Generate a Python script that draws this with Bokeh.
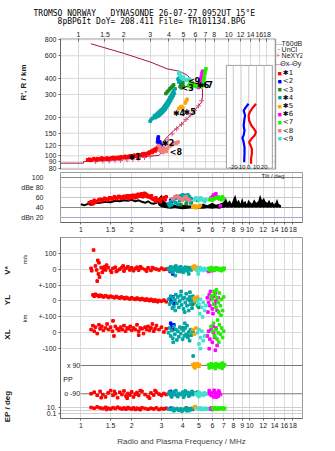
import math
from bokeh.plotting import figure
from bokeh.layouts import column
from bokeh.models import Range1d, FixedTicker, Label, LinearScale, LinearAxis, Title
from bokeh.embed import file_html
from bokeh.resources import INLINE

# ------------------------------------------------------------------ data
TITLE1 = "TROMSO NORWAY\u00a0\u00a0\u00a0DYNASONDE 26-07-27 0952UT 15°E"
TITLE2 = "8pBP6It DoY= 208.411 File= TR101134.BPG"

F_TICKS_TOP = [1, 1.5, 2, 3, 4, 5, 6, 7, 8, 10, 12, 14, 16, 18]
F_TICKS_BOT = [1, 1.5, 2, 3, 4, 5, 6, 7, 8, 9, 10, 12, 14, 16, 18]
H_TICKS = [80, 90, 100, 120, 150, 200, 300, 400, 600, 800]
DB_TICKS = [20, 40, 60, 80, 100]
DB_LABELS = {20: "dBn 20", 40: "40", 60: "60", 80: "dBe 80", 100: "100"}
TILT_TICKS = [-20, -10, 0, 10, 20]

SERIES_NAMES = ["✱1", "<2", "<3", "✱4", "✱5", "✱6", "<7", "<8", "<9"]
SERIES_COLORS = ["#FF0000", "#0000FF", "#1E8C1E", "#00A5A5", "#FFA500",
                 "#FF00FF", "#22EE00", "#F08080", "#40E0D0"]

# real-height / profile line (MHz, km)
PROF_F = [0.758, 1.08, 1.08, 1.61, 2.77, 3.43, 3.58, 3.65, 3.89, 4.32, 4.88, 5.68,
          6.58, 6.69, 6.69, 6.28, 5.68, 5.33, 4.70, 3.89, 3.03, 1.99, 1.21]
PROF_H = [87.6, 87.6, 90.3, 92, 98.8, 100.5, 106.7, 128, 140, 157, 177, 212,
          261, 286, 332, 352, 385, 422, 455, 475, 535, 628, 744]
NE_F = [1.3, 1.45, 1.6, 1.75, 1.9, 2.1, 2.3, 2.5, 2.75, 3.0, 3.55, 3.75, 3.95,
        4.2, 4.5, 4.85, 5.2, 5.55, 5.9, 6.3, 6.6]
NE_H = [90, 91, 91, 92, 92, 93, 94, 95, 97, 99, 112, 123, 133,
        148, 162, 176, 192, 208, 225, 245, 268]

# tilt profiles (deg, km)
TILTX_D = [9.3, 7.6, 4.0, 1.3, -0.2, 0.5, 3.4, 6.9, 9.3, 7.6, 3.4, 0.5, 2.3, 4.0, 4.0, 3.0, 3.0]
TILTX_H = [254, 246, 232, 218, 206, 188, 172, 162, 153, 144, 135.5, 127.6, 120.3, 113, 103.6, 94.8, 86.7]
TILTY_D = [-0.2, -3.7, -6.6, -4.8, -5.9, -6.6, -5.5, -6.6, -8.3, -6.6, -5.5, -5.5, -5.9, -5.9]
TILTY_H = [254, 239, 225, 206, 188, 172, 157, 144, 138, 127.6, 116.6, 103.6, 92, 89]

# echo traces: virtual height (MHz, km)
H1 = [(1.15, 93), (1.18, 94), (1.2, 92), (1.22, 93), (1.26, 95), (1.3, 94), (1.32, 93), (1.34, 95),
      (1.38, 94), (1.42, 96), (1.44, 94), (1.46, 95), (1.5, 95), (1.55, 96), (1.58, 94), (1.6, 95),
      (1.65, 96), (1.7, 97), (1.72, 95), (1.75, 96), (1.8, 97), (1.86, 97), (1.9, 96), (1.92, 98),
      (1.98, 97), (2.04, 99), (2.06, 97), (2.1, 98), (2.16, 99), (2.22, 100), (2.25, 98), (2.28, 99),
      (2.35, 101), (2.42, 100), (2.45, 99), (2.5, 102), (2.58, 101), (2.62, 101), (2.66, 103),
      (2.74, 104), (2.8, 102), (2.82, 103), (2.9, 105), (2.95, 104), (2.98, 107), (3.05, 108),
      (3.1, 106), (3.12, 110), (3.2, 112), (3.25, 109), (3.28, 113), (3.35, 116), (3.42, 118), (3.38, 112)]
H2 = [(3.38, 135), (3.4, 140), (3.42, 130), (3.45, 125), (3.48, 128), (3.5, 122), (3.55, 120), (3.36, 128)]
H3 = [(3.82, 305), (3.9, 315), (3.98, 322), (4.06, 332), (4.14, 340), (4.22, 348), (4.3, 356),
      (4.75, 345), (4.8, 360), (4.85, 338), (4.9, 352), (4.95, 370), (5.0, 348), (4.72, 380)]
H4 = [(3.0, 186), (3.05, 192), (3.12, 196), (3.2, 205), (3.25, 198), (3.3, 210), (3.35, 202),
      (3.38, 215), (3.42, 205), (3.45, 220), (3.5, 210), (3.52, 225), (3.56, 214), (3.6, 230),
      (3.63, 218), (3.67, 236), (3.7, 224), (3.74, 244), (3.78, 230), (3.82, 252), (3.86, 238),
      (3.9, 262), (3.94, 248), (3.98, 272), (4.02, 258), (4.06, 284), (4.1, 268), (4.14, 296),
      (4.18, 280), (4.22, 308), (4.26, 292), (4.3, 320), (4.35, 305), (4.4, 332),
      (4.6, 395), (4.7, 410), (4.8, 385), (4.65, 375)]
H5 = [(4.65, 232), (4.75, 238), (4.85, 242), (4.95, 236), (5.15, 258), (5.22, 268), (5.28, 275)]
H6 = [(6.35, 350), (6.4, 362), (6.45, 375), (6.5, 390), (6.55, 405), (6.6, 420), (6.65, 440),
      (6.7, 455), (6.3, 340), (6.2, 345), (6.05, 348)]
H7 = [(5.4, 350), (5.5, 360), (5.6, 345), (5.7, 352), (5.8, 358), (5.9, 350), (6.0, 355),
      (6.1, 348), (6.2, 352), (5.55, 370), (5.75, 365), (6.8, 380), (6.85, 400), (6.9, 420),
      (6.95, 440), (7.0, 460), (6.75, 360), (6.6, 345), (7.05, 475)]
H8 = [(3.45, 110), (3.5, 114), (3.55, 108), (3.6, 112), (3.65, 106), (3.7, 115), (3.75, 110),
      (3.8, 112), (3.85, 108), (3.9, 114), (4.0, 118), (4.1, 120), (4.2, 122), (4.3, 124),
      (4.4, 126), (4.5, 125), (4.6, 128), (3.4, 120), (3.48, 118)]
H9 = [(4.65, 440), (4.7, 430), (4.75, 420), (4.8, 410), (4.9, 400), (5.0, 395), (5.1, 392),
      (5.2, 388), (5.3, 390), (5.45, 395), (4.72, 445), (5.0, 410)]
TRACE_TAGS = [("✱1", 2.15, 97), ("✱2", 3.6, 124), ("<3", 4.85, 335), ("✱4", 4.25, 212),
              ("✱5", 5.0, 218), ("<8", 4.05, 107), ("<9", 5.35, 378), ("✱6", 6.15, 352), ("<7", 6.5, 352)]

# amplitude (MHz, dB)
NOISE_LEFT_F = [1.0, 1.05, 1.1, 1.15, 1.2, 1.3, 1.4, 1.5, 1.6, 1.7, 1.8, 1.9, 2.0, 2.1, 2.2,
                2.3, 2.4, 2.5, 2.6, 2.7, 2.8, 2.85]
NOISE_LEFT_DB = [47, 45, 48, 46, 49, 50, 52, 51, 54, 53, 55, 54, 56, 53, 55, 52, 50, 53, 49, 48, 50, 52]
NOISE_F = [2.85, 2.9, 3.0, 3.1, 3.2, 3.4, 3.6, 3.8, 4.0, 4.3, 4.6, 5.0, 5.3, 5.6, 6.0, 6.3,
           6.6, 6.9, 7.0, 7.2, 7.4, 7.6, 7.8, 8.0, 8.2, 8.4, 8.6, 8.8, 9.0, 9.2, 9.4, 9.6,
           9.8, 10.0, 10.3, 10.6, 10.9, 11.2, 11.5, 11.8, 12.1, 12.4, 12.7, 13.0, 13.3,
           13.6, 13.9, 14.2, 14.5, 14.8, 15.1, 15.3]
NOISE_HI = [52, 60, 66, 55, 50, 48, 46, 45, 46, 45, 44, 46, 48, 45, 50, 46,
            48, 50, 52, 60, 50, 55, 48, 58, 66, 52, 56, 48, 60, 50, 54, 47,
            56, 52, 48, 57, 50, 53, 66, 55, 60, 52, 50, 56, 49,
            52, 47, 50, 58, 48, 46, 45]
NOISE_LO = [48, 44, 41, 40, 39, 38, 39, 38, 37, 38, 39, 38, 38, 39, 38, 39,
            38, 40, 40, 41, 40, 41, 40, 41, 40, 41, 40, 41, 40, 41, 40, 41,
            40, 41, 40, 41, 40, 41, 40, 41, 40, 41, 40, 41, 40,
            41, 40, 41, 40, 41, 40, 41]
D1 = [(1.12, 50), (1.15, 52), (1.18, 48), (1.2, 55), (1.22, 51), (1.25, 53), (1.28, 56), (1.3, 57),
      (1.33, 54), (1.35, 56), (1.38, 59), (1.4, 58), (1.43, 55), (1.45, 57), (1.48, 60), (1.5, 60),
      (1.53, 57), (1.55, 59), (1.58, 62), (1.6, 61), (1.63, 58), (1.65, 60), (1.68, 63), (1.7, 62),
      (1.73, 59), (1.75, 59), (1.78, 62), (1.8, 63), (1.83, 60), (1.85, 61), (1.88, 64), (1.9, 60),
      (1.93, 58), (1.95, 64), (1.98, 61), (2.0, 62), (2.03, 65), (2.05, 63), (2.08, 60), (2.1, 65),
      (2.13, 61), (2.15, 62), (2.18, 67), (2.2, 66), (2.23, 63), (2.25, 64), (2.28, 68), (2.3, 67),
      (2.33, 62), (2.35, 65), (2.38, 69), (2.4, 68), (2.43, 64), (2.45, 66), (2.48, 62), (2.5, 64),
      (2.55, 62), (2.6, 60), (2.62, 64), (2.65, 58), (2.7, 57), (2.75, 55), (2.78, 60), (2.8, 53),
      (2.85, 56), (2.9, 55), (2.95, 52), (3.0, 58), (3.1, 60), (3.15, 56), (3.2, 62)]
D2 = [(3.4, 55), (3.45, 52), (3.5, 58)]
D3 = [(3.9, 46), (4.2, 48), (4.5, 50), (4.9, 55)]
D4 = [(3.3, 48), (3.4, 52), (3.5, 55), (3.6, 58), (3.7, 60), (3.8, 62), (3.9, 64), (4.0, 66),
      (4.1, 65), (4.2, 63), (4.3, 66), (4.4, 62), (4.5, 58), (3.45, 46), (3.65, 50), (3.85, 54),
      (4.05, 58), (4.25, 55), (4.45, 50), (3.35, 44), (3.75, 47), (4.15, 60)]
D5 = [(4.6, 42), (4.7, 44), (4.8, 40), (4.9, 43), (5.0, 42), (5.1, 45)]
D6 = [(5.9, 60), (6.0, 62), (6.1, 66), (6.2, 64), (6.3, 68), (6.4, 62), (6.5, 60), (6.6, 58), (6.7, 44)]
D7 = [(5.8, 56), (5.9, 58), (6.0, 55), (6.2, 58), (6.3, 60), (6.5, 62), (6.6, 58), (6.7, 60),
      (6.8, 56), (6.9, 62), (7.0, 58)]
D8 = [(3.5, 58), (3.6, 62), (3.7, 64), (3.8, 60), (3.9, 58), (4.0, 55), (4.1, 60), (4.2, 62),
      (4.3, 57), (4.4, 55)]
D9 = [(4.7, 56), (4.8, 60), (4.9, 58), (5.0, 55), (5.1, 60), (5.2, 57), (5.3, 55), (5.4, 52), (5.5, 56)]

# Doppler velocity V* (MHz, m/s)
V1 = [(1.15, 5), (1.16, -10), (1.19, 120), (1.22, 20), (1.24, -5), (1.26, 55), (1.28, 40), (1.27, -30),
      (1.25, -75), (1.32, 10), (1.34, -20), (1.36, 0), (1.38, 15), (1.4, -5), (1.45, 10), (1.5, -10),
      (1.55, 5), (1.6, 12), (1.65, -8), (1.7, 0), (1.75, 10), (1.8, -12), (1.85, 5), (1.9, 15),
      (1.95, -5), (2.0, 8), (2.05, -10), (2.1, 3), (2.15, 12), (2.2, -6), (2.3, 5), (2.4, -3),
      (2.5, 8), (2.6, -8), (2.7, 4), (2.8, 0), (2.9, -5), (3.0, 6), (3.1, -2), (3.2, 0),
      (1.62, -15), (1.78, 20), (2.25, 15), (2.45, -12), (2.65, 10), (1.42, 25), (1.52, -20), (1.29, -50)]
V2 = [(3.38, -15), (3.42, 5), (3.5, -30), (3.55, 10)]
V3 = [(3.9, -15), (4.3, 10)]
V4 = [(3.3, 5), (3.35, -10), (3.4, 15), (3.45, 0), (3.5, -20), (3.55, 10), (3.6, -5), (3.65, 20),
      (3.7, 0), (3.75, -15), (3.8, 10), (3.85, -5), (3.9, 15), (3.95, -10), (4.0, 5), (4.05, -20),
      (4.1, 0), (4.15, 12), (4.2, -8), (4.25, 5), (4.3, -12), (4.4, 8), (4.5, -5), (3.62, -40), (4.35, -30)]
V5 = [(4.6, 15), (4.65, 5), (4.7, 20), (4.75, 0), (4.8, 10), (4.85, -5), (4.9, 12)]
V6 = [(5.6, -5), (5.7, -15), (5.8, 0), (5.9, -10), (6.0, 5), (6.1, -8)]
V7 = [(5.7, 5), (5.8, -5), (5.9, 10), (6.0, -8), (6.1, 3), (6.2, -5), (6.3, 8), (6.4, -2),
      (6.5, 5), (6.6, -5), (6.7, 0), (6.8, -10), (6.9, 5), (7.0, -3), (7.05, 6)]
V8 = []
V9 = [(4.85, 0), (4.9, -10), (5.0, 5), (5.05, -5), (5.1, 10), (5.2, 0), (5.3, -8), (5.4, 5),
      (5.5, -3), (4.95, -30)]

# YL (MHz, km)
Y1 = [(1.18, 38), (1.2, 30), (1.22, 42), (1.25, 35), (1.28, 28), (1.3, 36), (1.33, 32), (1.36, 25),
      (1.4, 33), (1.43, 28), (1.46, 22), (1.5, 30), (1.54, 25), (1.58, 20), (1.62, 28), (1.66, 22),
      (1.7, 18), (1.74, 25), (1.78, 20), (1.82, 15), (1.86, 22), (1.9, 17), (1.95, 12), (2.0, 20),
      (2.05, 14), (2.1, 10), (2.15, 18), (2.2, 12), (2.25, 8), (2.3, 15), (2.35, 10), (2.4, 5),
      (2.45, 12), (2.5, 6), (2.55, 2), (2.6, 10), (2.65, 4), (2.7, -2), (2.75, 6), (2.8, 0),
      (2.85, -5), (2.9, 3), (3.0, -2), (3.1, 5), (3.2, -5)]
Y2 = [(3.38, 15), (3.42, -5), (3.5, 25), (3.56, -15)]
Y3 = [(4.4, 5), (4.6, -20), (4.9, 15), (5.0, -40)]
Y4 = [(3.3, 10), (3.35, -20), (3.4, 30), (3.45, -10), (3.5, 20), (3.55, -35), (3.6, 5), (3.65, 40),
      (3.7, -15), (3.75, 25), (3.8, -40), (3.85, 0), (3.9, 35), (3.95, -25), (4.0, 15), (4.05, -50),
      (4.1, 20), (4.15, -10), (4.2, 45), (4.25, -30), (4.3, 10), (4.35, -60), (4.4, 25), (4.45, -20),
      (4.5, 5), (4.55, -45), (4.6, 30), (4.7, -10), (4.8, 15), (4.9, -30), (3.62, -60), (3.92, 60),
      (4.12, -70), (4.42, 55), (3.48, -45)]
Y5 = [(4.7, 20), (4.8, 10), (4.9, 25), (4.75, 0)]
Y6 = [(5.6, 20), (5.7, -10), (5.75, 40), (5.8, -30), (5.9, 10), (6.0, -50), (6.1, 30), (6.2, -20),
      (6.3, 0), (6.4, -60), (6.5, 20), (5.85, 60), (6.05, -80), (6.25, 50), (5.65, -70)]
Y7 = [(5.9, 30), (6.0, 10), (6.1, -20), (6.2, 40), (6.3, -40), (6.4, 20), (6.5, -10), (6.6, 50),
      (6.7, -30), (6.8, 10), (6.9, -60), (7.0, 25), (6.35, 70), (6.55, -70), (6.75, -90), (6.15, 60)]
Y8 = []
Y9 = [(4.9, 0), (5.0, -20), (5.1, 10), (5.2, -40), (5.3, -10), (5.4, -60), (5.5, -30), (5.05, -80), (5.25, -100)]

# XL (MHz, km)
X1 = [(1.15, 20), (1.18, 45), (1.2, 10), (1.22, 35), (1.25, -5), (1.28, 50), (1.3, 25), (1.33, 40),
      (1.36, 15), (1.4, 30), (1.43, 55), (1.46, 20), (1.5, 35), (1.54, 10), (1.57, -20), (1.6, 40),
      (1.64, 25), (1.68, 15), (1.72, 35), (1.76, 20), (1.8, 45), (1.84, 10), (1.88, 30), (1.92, 25),
      (1.96, 40), (2.0, 15), (2.05, 30), (2.1, 20), (2.15, 50), (2.2, 10), (2.25, 30), (2.3, 25),
      (2.35, -5), (2.4, 35), (2.45, 20), (2.5, 40), (2.55, 15), (2.6, 30), (2.65, 55), (2.7, 10),
      (2.75, 25), (2.8, 45), (2.9, 20), (3.0, 35), (3.1, 5), (3.2, 25), (1.55, 75), (2.2, -15)]
X2 = [(3.4, 60), (3.45, 40), (3.5, 20), (3.55, 50)]
X3 = [(4.0, 30), (4.3, -20), (4.6, 10)]
X4 = [(3.3, 0), (3.35, 30), (3.4, -20), (3.45, 15), (3.5, -35), (3.55, 40), (3.6, -10), (3.65, 20),
      (3.7, -45), (3.75, 10), (3.8, -25), (3.85, 35), (3.9, -5), (3.95, 25), (4.0, -40), (4.05, 15),
      (4.1, -20), (4.15, 30), (4.2, -10), (4.25, 45), (4.3, -30), (4.35, 5), (4.4, -50), (4.45, 20),
      (4.5, -15), (4.6, 10), (3.52, -60), (4.12, 60)]
X5 = [(4.6, 20), (4.7, -10), (4.8, 30)]
X6 = [(5.6, -20), (5.7, 10), (5.8, -40), (5.9, 20), (6.0, -60), (6.1, 0), (6.2, -30), (6.3, 30),
      (6.4, -80), (5.75, -100), (6.05, 40), (6.25, -110)]
X7 = [(5.9, 40), (6.0, 10), (6.1, 60), (6.2, -20), (6.3, 20), (6.4, -40), (6.5, 0), (6.6, 50),
      (6.7, -10), (6.8, 30), (6.9, -30), (7.0, 10), (6.45, 80), (6.55, -60)]
X8 = []
X9 = [(4.9, 0), (5.0, 20), (5.1, -30), (5.2, 10), (5.3, -50), (5.0, -70), (5.1, -100), (5.4, -20)]

# polarisation PP (MHz, deg)
P1 = [(1.15, -90), (1.2, -80), (1.25, -100), (1.3, -75), (1.35, -95), (1.4, -110), (1.45, -85),
      (1.5, -70), (1.55, -100), (1.6, -90), (1.65, -115), (1.7, -80), (1.75, -95), (1.8, -72),
      (1.85, -105), (1.9, -88), (1.95, -98), (2.0, -78), (2.05, -110), (2.1, -92), (2.15, -82),
      (2.2, -100), (2.3, -75), (2.4, -95), (2.5, -108), (2.6, -85), (2.7, -98), (2.8, -80),
      (2.9, -92), (3.0, -100), (3.1, -88), (3.2, -95), (1.32, -115), (1.58, -75), (1.88, -118),
      (2.25, -70), (2.55, -118), (2.75, -70)]
P2 = [(3.35, -80), (3.4, -75), (3.45, -95)]
P3 = [(4.3, -85), (4.6, -90), (4.9, -80)]
P4 = [(3.3, -90), (3.35, -80), (3.4, -100), (3.5, -85), (3.55, -95), (3.6, -75), (3.7, -100),
      (3.8, -88), (3.9, -95), (4.0, -80), (4.1, -100), (4.2, -90), (4.3, -82), (4.4, -98),
      (4.5, -88), (4.6, -95), (4.7, -85), (3.45, -110), (3.75, -108), (4.05, -112), (4.35, -105),
      (3.65, -70), (4.15, -72), (4.55, -75), (4.62, 150)]
P5 = [(4.6, 95), (4.65, 85), (4.7, 100), (4.75, 80), (4.8, 92), (4.85, 88), (4.9, 100), (5.0, 85),
      (5.05, 95), (4.72, 75)]
P6 = [(5.7, -90), (5.8, -80), (5.9, -100), (6.0, -85), (6.1, -110), (6.2, -78), (6.3, -95),
      (6.4, -88), (6.5, -105), (6.6, -82), (6.7, -95), (5.75, -70), (6.15, -68), (6.55, -72), (6.35, -112)]
P7 = [(5.7, 95), (5.8, 85), (5.9, 100), (6.0, 80), (6.1, 95), (6.2, 88), (6.3, 102), (6.4, 85),
      (6.5, 95), (6.6, 80), (6.7, 98), (6.8, 90), (6.9, 105), (7.0, 85), (7.1, 95), (5.75, 75),
      (6.25, 70), (6.85, 72)]
P8 = []
P9 = [(4.8, -90), (4.9, -100), (5.0, -80), (5.1, -95), (5.2, -88), (5.3, -100), (5.4, -85),
      (5.5, -92), (5.0, -108)]

# EP (MHz, deg)
E1 = [(1.15, 8), (1.2, 5), (1.25, 12), (1.3, 6), (1.35, 4), (1.4, 9), (1.45, 5), (1.5, 3), (1.55, 7),
      (1.6, 4), (1.65, 10), (1.7, 5), (1.75, 3), (1.8, 6), (1.85, 2.5), (1.9, 8), (1.95, 4), (2.0, 3),
      (2.05, 6), (2.1, 2), (2.15, 5), (2.2, 3), (2.3, 7), (2.4, 4), (2.5, 2.5), (2.6, 5), (2.7, 3),
      (2.8, 6), (2.9, 2), (3.0, 4), (3.1, 3), (3.2, 5), (1.42, 2), (2.25, 1.8)]
E2 = [(3.4, 5), (3.45, 3)]
E3 = [(4.2, 6), (4.5, 4)]
E4 = [(3.3, 3), (3.4, 2), (3.5, 5), (3.6, 1.5), (3.7, 4), (3.8, 1.2), (3.9, 3), (4.0, 0.9), (4.1, 2.5),
      (4.2, 1.5), (4.3, 4), (4.4, 1), (4.5, 3), (4.6, 2), (3.55, 0.8), (3.95, 0.7), (4.25, 0.8)]
E5 = [(4.7, 12), (4.8, 8), (4.75, 15)]
E6 = [(5.8, 3), (5.9, 6), (6.0, 2)]
E7 = [(6.0, 5), (6.1, 3), (6.2, 7), (6.3, 4), (6.4, 2.5), (6.5, 6), (6.6, 3), (6.7, 5), (6.8, 4),
      (6.9, 6), (7.0, 3), (7.1, 5)]
E8 = []
E9 = [(4.9, 5), (5.0, 3), (5.1, 6), (5.2, 2), (5.3, 4), (5.4, 3), (5.5, 5), (5.6, 2.5)]

HEIGHT_SETS = [H1, H2, H3, H4, H5, H6, H7, H8, H9]
DB_SETS = [D1, D2, D3, D4, D5, D6, D7, D8, D9]
V_SETS = [V1, V2, V3, V4, V5, V6, V7, V8, V9]
YL_SETS = [Y1, Y2, Y3, Y4, Y5, Y6, Y7, Y8, Y9]
XL_SETS = [X1, X2, X3, X4, X5, X6, X7, X8, X9]
PP_SETS = [P1, P2, P3, P4, P5, P6, P7, P8, P9]
EP_SETS = [E1, E2, E3, E4, E5, E6, E7, E8, E9]

# ------------------------------------------------------------------ layout constants
W = 335
F_LO, F_HI = 0.758, 20.49        # plotted frequency span (frame 40..302 px)
F_HI_WIDE = 31.03                # top panel frame runs on to the canvas edge (legend strip)
H_LO, H_HI = 78.2, 818
SANS = "Liberation Sans"
MONO = "DejaVu Sans Mono"
CRIMSON = "#A8154C"
PINK = "#E0507C"
GRID = "#d9d9d9"
FRAME = "#9a9a9a"
MS = 2.6  # marker size

# bottom panel stacking (units of m/s or km; 0.159 px per unit)
V_OFF, YL_OFF, XL_OFF = 400, 200, 0
PP_MID, PP_SCALE = -294.6, 0.988
EP_MID, EP_DEC = -488.7, 20.7


def pp_y(v):
    return PP_MID + v * PP_SCALE


def ep_y(v):
    return EP_MID + EP_DEC * math.log10(v)


def fmt(t):
    return str(int(t)) if float(t).is_integer() else str(t)


def style(p):
    p.background_fill_color = "white"
    p.border_fill_color = "white"
    p.outline_line_color = FRAME
    for ax in p.axis:
        ax.major_label_text_font = SANS
        ax.major_label_text_font_size = "7px"
        ax.major_label_text_color = "#222"
        ax.axis_line_color = "#666"
        ax.major_tick_line_color = "#666"
        ax.minor_tick_line_color = None
        ax.major_tick_out = 2
        ax.major_tick_in = 0
        ax.major_label_standoff = 2
    p.xgrid.grid_line_color = GRID
    p.ygrid.grid_line_color = GRID


def add_px(p, x1, y0, y1):
    p.extra_x_ranges["px"] = Range1d(40, x1)
    p.extra_x_scales["px"] = LinearScale()
    p.extra_y_ranges["py"] = Range1d(y1, y0)
    p.extra_y_scales["py"] = LinearScale()


def label_axis(p, ticks, labels, size, bold, standoff):
    ax = LinearAxis(ticker=FixedTicker(ticks=ticks), major_label_overrides=dict(zip(ticks, labels)),
                    major_label_orientation="parallel", axis_line_color=None,
                    major_tick_line_color=None, minor_tick_line_color=None,
                    major_label_text_font=SANS, major_label_text_font_size=size,
                    major_label_text_font_style="bold" if bold else "normal",
                    major_label_text_color="#222", major_label_standoff=standoff)
    p.add_layout(ax, "left")
    return ax


def lab(p, x, y, text, size="7px", color="#222", align="left", angle=0.0,
        bold=False, font=SANS, xr="px", yr="py", baseline="middle"):
    kw = dict(x=x, y=y, text=text, text_font=font, text_font_size=size,
              text_color=color, text_align=align, text_baseline=baseline,
              angle=angle, text_font_style="bold" if bold else "normal")
    if xr:
        kw["x_range_name"] = xr
    if yr:
        kw["y_range_name"] = yr
    p.add_layout(Label(**kw))


def scat(p, pts, color, yfun=lambda v: v, **kw):
    if not pts:
        return None
    return p.scatter([a for a, _ in pts], [yfun(b) for _, b in pts], marker="square",
                     size=MS, color=color, **kw)


# ------------------------------------------------------------------ panel 1: heights
p1 = figure(width=W, height=172, x_axis_type="log", y_axis_type="log",
            x_range=Range1d(F_LO, F_HI_WIDE), y_range=Range1d(H_LO, H_HI),
            x_axis_location="above", min_border_left=40, min_border_right=0,
            min_border_top=38, min_border_bottom=3,
            output_backend="svg", toolbar_location=None)
style(p1)
p1.outline_line_color = None
p1.xaxis.ticker = FixedTicker(ticks=F_TICKS_TOP)
p1.xaxis.major_label_overrides = {t: fmt(t) for t in F_TICKS_TOP}
p1.xaxis.major_tick_in = 3
p1.xaxis.major_tick_out = 0
p1.xaxis.axis_line_color = None
p1.xgrid.ticker = FixedTicker(ticks=F_TICKS_TOP)
p1.yaxis.ticker = FixedTicker(ticks=H_TICKS)
p1.yaxis.major_label_overrides = {t: str(t) for t in H_TICKS}
p1.ygrid.grid_line_color = None
add_px(p1, 335, 38, 169)
p1.extra_x_ranges["tilt"] = Range1d(-244.1, 69.7)
p1.extra_x_scales["tilt"] = LinearScale()
label_axis(p1, [10 ** (2 + (155.3 - 82) / 128.5)], ["R', R / km"], "8px", True, 7)

title = Title(text=TITLE1 + "\n" + "\u00a0" * 5 + TITLE2, align="left", offset=-27,
              text_font=MONO, text_font_size="8px", text_font_style="normal",
              text_color="black", standoff=4, text_line_height=0.95)
p1.add_layout(title, "above")

# height grid and frame limited to the plotted frequency span
p1.segment(x0=[F_LO] * len(H_TICKS), y0=H_TICKS, x1=[F_HI] * len(H_TICKS), y1=H_TICKS,
           line_color=GRID)
p1.segment(x0=[F_LO, F_LO, F_HI], y0=[H_HI, H_LO, H_LO], x1=[F_HI, F_HI, F_HI], y1=[H_HI, H_LO, H_HI],
           line_color=FRAME, line_width=1.5)

# profile lines
p1.line(PROF_F, PROF_H, line_color=CRIMSON, line_width=1)
p1.scatter(NE_F, NE_H, marker="cross", size=5, line_color=PINK, line_width=1)

# echo traces
for pts, c in zip(HEIGHT_SETS, SERIES_COLORS):
    scat(p1, pts, c)
for txt, f, h in TRACE_TAGS:
    lab(p1, f, h, txt, size="8px", color="black", bold=True, font="DejaVu Sans", xr=None, yr=None)

# tilt inset
p1.quad(left=-29, right=30.6, bottom=80, top=505, fill_color="white",
        line_color="#a0a0a0", x_range_name="tilt")
p1.segment(x0=TILT_TICKS, y0=[80] * 5, x1=TILT_TICKS, y1=[505] * 5,
           line_color="#c8c8c8", x_range_name="tilt")
p1.line(TILTX_D, TILTX_H, line_color="#FF0000", line_width=2.2, x_range_name="tilt")
p1.line(TILTY_D, TILTY_H, line_color="#0000FF", line_width=2.2, x_range_name="tilt")
for t in TILT_TICKS:
    lab(p1, t, 166.5, str(t), size="6px", align="center", xr="tilt")

# legend strip (right of the plotted span)
lab(p1, 302.5, 43.3, "—", size="7px", color="#999")
lab(p1, 309.5, 43.3, "T60dB", size="7px")
lab(p1, 304.5, 49.0, "·", size="8px", color="black")
lab(p1, 309.5, 49.0, "UnCl", size="7px")
lab(p1, 302.5, 55.0, "+", size="8px", color=PINK)
lab(p1, 309.5, 55.0, "NeXYZ", size="7px")
lab(p1, 302.0, 63.3, "—", size="7px", color=PINK)
lab(p1, 308.0, 63.3, "Θx", size="7px")
lab(p1, 316.0, 63.3, "—", size="7px", color="#5060ff")
lab(p1, 322.5, 63.3, "Θy", size="7px")
for i, (nm, c) in enumerate(zip(SERIES_NAMES, SERIES_COLORS)):
    yy = 72.7 + 8.2 * i
    lab(p1, 304.5, yy, "■", size="7px", color=c)
    lab(p1, 311.0, yy, nm, size="7px", color="#111", font="DejaVu Sans")

# ------------------------------------------------------------------ panel 2: amplitude
p2 = figure(width=W, height=64, x_axis_type="log",
            x_range=Range1d(F_LO, F_HI), y_range=Range1d(10.6, 110.6),
            min_border_left=40, min_border_right=33, min_border_top=0, min_border_bottom=14,
            output_backend="svg", toolbar_location=None)
style(p2)
p2.xaxis.ticker = FixedTicker(ticks=F_TICKS_BOT)
p2.xaxis.major_label_overrides = {t: fmt(t) for t in F_TICKS_BOT}
p2.xgrid.ticker = FixedTicker(ticks=F_TICKS_BOT)
p2.yaxis.ticker = FixedTicker(ticks=DB_TICKS)
p2.yaxis.major_label_overrides = DB_LABELS
p2.yaxis.axis_line_color = None
p2.yaxis.major_tick_line_color = None
p2.yaxis.major_label_standoff = 15
p2.ygrid.ticker = FixedTicker(ticks=DB_TICKS)
p2.ygrid.grid_line_color = "#c8c8c8"
p2.hspan(y=[100, 40], line_color="#8a8a8a", line_width=1)
p2.hspan(y=[20], line_color="#a8a8c8", line_width=1)
add_px(p2, 302, 172, 222)

p2.varea(x=NOISE_F, y1=NOISE_LO, y2=NOISE_HI, fill_color="black")
p2.line(NOISE_LEFT_F, NOISE_LEFT_DB, line_color="black", line_width=2)
for pts, c in zip(DB_SETS, SERIES_COLORS):
    scat(p2, pts, c)
lab(p2, 270, 175.5, "Tilt / deg", size="6px", align="center")

# ------------------------------------------------------------------ panel 3: V*, YL, XL, PP, EP
p3 = figure(width=W, height=215, x_axis_type="log",
            x_range=Range1d(F_LO, F_HI), y_range=Range1d(-539, 599),
            min_border_left=40, min_border_right=33, min_border_top=1, min_border_bottom=33,
            output_backend="svg", toolbar_location=None)
style(p3)
p3.xaxis.ticker = FixedTicker(ticks=F_TICKS_BOT)
p3.xaxis.major_label_overrides = {t: fmt(t) for t in F_TICKS_BOT}
p3.xgrid.ticker = FixedTicker(ticks=F_TICKS_BOT)
p3.xaxis.axis_label = "Radio and Plasma Frequency / MHz"
p3.xaxis.axis_label_text_font = SANS
p3.xaxis.axis_label_text_font_size = "8px"
p3.xaxis.axis_label_text_font_style = "normal"
p3.xaxis.axis_label_standoff = 6
row_ticks = [V_OFF + 100, V_OFF, V_OFF - 100, YL_OFF, YL_OFF - 100, XL_OFF, XL_OFF - 100]
ep_ticks = [ep_y(10), ep_y(0.1)]
p3.yaxis.ticker = FixedTicker(ticks=row_ticks + ep_ticks)
p3.yaxis.major_label_overrides = {
    row_ticks[0]: "100", row_ticks[1]: "0", row_ticks[2]: "+-100", row_ticks[3]: "0",
    row_ticks[4]: "+-100", row_ticks[5]: "0", row_ticks[6]: "-100",
    ep_ticks[0]: "10.", ep_ticks[1]: "0.1"}
p3.ygrid.ticker = FixedTicker(ticks=row_ticks)
p3.hspan(y=[ep_y(10), ep_y(1), ep_y(0.1)], line_color="#d0d0d0")
add_px(p3, 302, 237, 418)
p3.segment(x0=[62, 62], y0=[pp_y(90), pp_y(-90)], x1=[302, 302], y1=[pp_y(90), pp_y(-90)],
           line_color="#777", line_width=1, x_range_name="px")
label_axis(p3, [V_OFF + 61, YL_OFF - 110], ["m/s", "km"], "6px", False, 1)
label_axis(p3, [V_OFF - 8, YL_OFF + 6, XL_OFF - 11, -463.5], ["V*", "YL", "XL", "EP / deg"],
           "8px", True, 1)

for i, c in enumerate(SERIES_COLORS):
    scat(p3, V_SETS[i], c, lambda v: v + V_OFF)
    scat(p3, YL_SETS[i], c, lambda v: v + YL_OFF)
    scat(p3, XL_SETS[i], c, lambda v: v + XL_OFF)
    scat(p3, PP_SETS[i], c, pp_y)
    scat(p3, EP_SETS[i], c, ep_y)

lab(p3, 47, 365, "x 90", size="7px")
lab(p3, 43, 379, "PP", size="7px")
lab(p3, 44, 393.3, "o -90", size="7px")

layout = column(p1, p2, p3, spacing=0)
open("out.html", "w").write(file_html(layout, INLINE))
